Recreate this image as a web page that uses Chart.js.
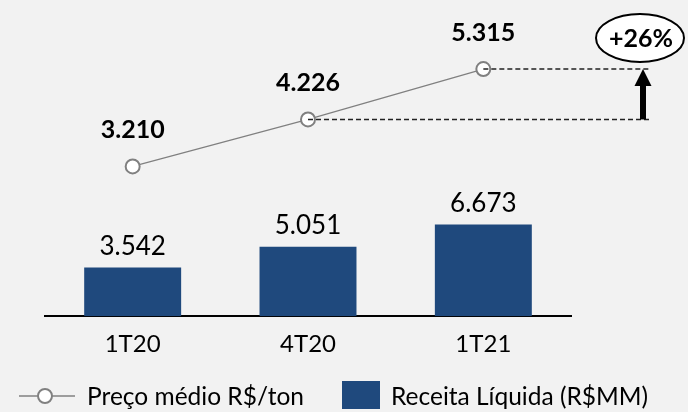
<!DOCTYPE html>
<html><head><meta charset="utf-8">
<script src="https://cdn.jsdelivr.net/npm/chart.js@4"></script>
<style>html,body{margin:0;padding:0;background:#f2f2f2;overflow:hidden}canvas{display:block}</style>
</head><body>
<canvas id="c" width="688" height="412"></canvas>
<script>
const categories = ['1T20', '4T20', '1T21'];
const revenue = [3542, 5051, 6673];
const price = [3210, 4226, 5315];
const growthLabel = '+26%';
const legendLabels = ['Preço médio R$/ton', 'Receita Líquida (R$MM)'];

const BAR_COLOR = '#1F497D';
const LINE_COLOR = '#808080';
const FONT = 'Lato, "Open Sans", sans-serif';

function fmt(v) { return String(v).replace(/\B(?=(\d{3})+(?!\d))/g, '.'); }

const overlay = {
  id: 'overlay',
  beforeDraw(chart) {
    const ctx = chart.ctx;
    ctx.save();
    ctx.fillStyle = '#f2f2f2';
    ctx.fillRect(0, 0, chart.width, chart.height);
    ctx.restore();
  },
  afterDatasetsDraw(chart) {
    const ctx = chart.ctx;
    const bars = chart.getDatasetMeta(1).data;
    const pts = chart.getDatasetMeta(0).data;
    const area = chart.chartArea;
    ctx.save();
    // bar value labels
    ctx.fillStyle = '#000';
    ctx.textAlign = 'center';
    ctx.textBaseline = 'alphabetic';
    ctx.font = '26px ' + FONT;
    bars.forEach((b, i) => ctx.fillText(fmt(revenue[i]), b.x, b.y - 13));
    // line value labels
    ctx.font = 'bold 25px ' + FONT;
    pts.forEach((p, i) => ctx.fillText(fmt(price[i]), p.x, p.y - 28));

    // dashed reference lines
    const xEnd = area.right + 80;
    ctx.strokeStyle = '#222';
    ctx.lineWidth = 1.5;
    ctx.setLineDash([5, 3]);
    ctx.beginPath();
    ctx.moveTo(pts[1].x, pts[1].y); ctx.lineTo(xEnd - 1, pts[1].y);
    ctx.moveTo(pts[2].x, pts[2].y); ctx.lineTo(xEnd, pts[2].y);
    ctx.stroke();
    ctx.setLineDash([]);

    // arrow
    const ax = area.right + 72;
    const yTop = pts[2].y, yBot = pts[1].y;
    ctx.fillStyle = '#000';
    ctx.fillRect(ax - 3, yTop + 15, 6, yBot - yTop - 15);
    ctx.beginPath();
    ctx.moveTo(ax, yTop);
    ctx.lineTo(ax - 8.5, yTop + 17);
    ctx.lineTo(ax + 8.5, yTop + 17);
    ctx.closePath();
    ctx.fill();

    // ellipse with growth
    const ex = area.right + 69, ey = 38;
    ctx.beginPath();
    ctx.ellipse(ex, ey, 44, 24, 0, 0, Math.PI * 2);
    ctx.fillStyle = '#fff';
    ctx.fill();
    ctx.lineWidth = 2;
    ctx.strokeStyle = '#000';
    ctx.stroke();
    ctx.fillStyle = '#000';
    ctx.font = 'bold 25px ' + FONT;
    ctx.fillText(growthLabel, ex + 1, ey + 9);

    // legend
    const ly = 396;
    ctx.strokeStyle = LINE_COLOR;
    ctx.lineWidth = 1.5;
    ctx.beginPath(); ctx.moveTo(19, ly); ctx.lineTo(75, ly); ctx.stroke();
    ctx.beginPath(); ctx.arc(45, ly, 7, 0, Math.PI * 2);
    ctx.fillStyle = '#fff'; ctx.fill();
    ctx.lineWidth = 2; ctx.stroke();
    ctx.fillStyle = BAR_COLOR;
    ctx.fillRect(342, 381, 38, 28);
    ctx.fillStyle = '#000';
    ctx.textAlign = 'left';
    ctx.font = '24.5px ' + FONT;
    ctx.fillText(legendLabels[0], 87, 405);
    ctx.fillText(legendLabels[1], 391, 405);
    ctx.restore();
  }
};

new Chart(document.getElementById('c'), {
  type: 'bar',
  data: {
    labels: categories,
    datasets: [
      {
        type: 'line', label: legendLabels[0], data: price, yAxisID: 'y2', order: 0,
        borderColor: LINE_COLOR, borderWidth: 1.2, tension: 0,
        pointRadius: 7, pointBackgroundColor: '#fff', pointBorderColor: LINE_COLOR, pointBorderWidth: 2
      },
      {
        type: 'bar', label: legendLabels[1], data: revenue, yAxisID: 'y', order: 1,
        backgroundColor: BAR_COLOR, borderWidth: 0,
        barPercentage: 0.553, categoryPercentage: 1
      }
    ]
  },
  options: {
    responsive: false,
    animation: false,
    layout: { padding: { left: 45, right: 117, top: 10, bottom: 39 } },
    plugins: { legend: { display: false }, tooltip: { enabled: false } },
    scales: {
      x: {
        grid: { display: false, drawTicks: false },
        border: { display: true, color: '#000', width: 2 },
        ticks: { color: '#000', font: { family: FONT, size: 24 }, padding: 14 }
      },
      y: { display: false, min: 0, max: 22287 },
      y2: { display: false, min: -30, max: 6593 }
    }
  },
  plugins: [overlay]
});
</script>
</body></html>
